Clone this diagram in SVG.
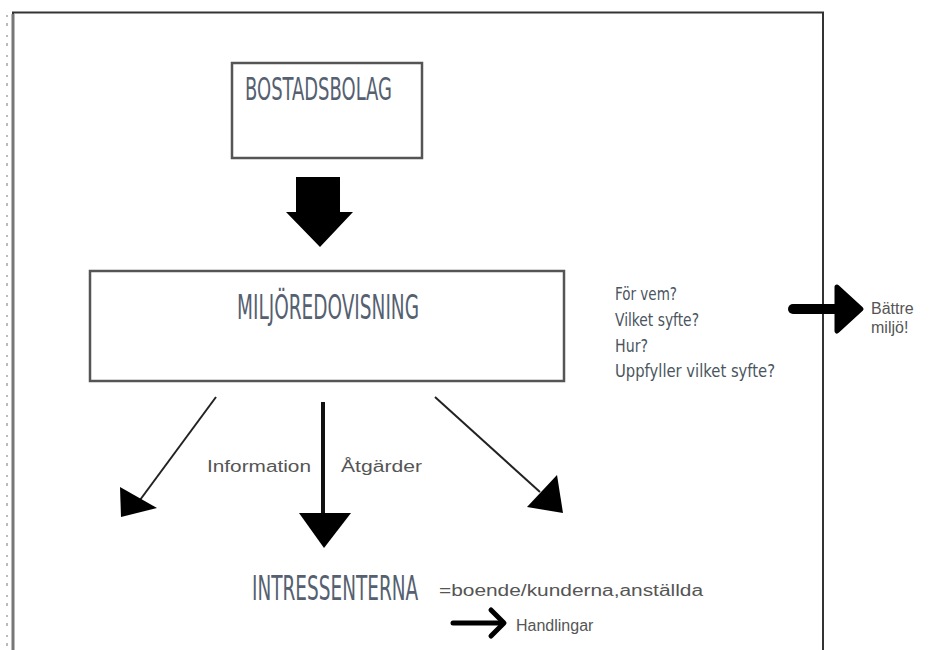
<svg xmlns="http://www.w3.org/2000/svg" width="931" height="650" viewBox="0 0 931 650">
<defs>
<style>
.box{fill:#fff;stroke:#555;stroke-width:2.5}
.cond{font-family:"Liberation Sans Narrow","DejaVu Sans Condensed","Liberation Sans",sans-serif;fill:#556070}
.q{font-family:"Liberation Sans Narrow","DejaVu Sans Condensed","Liberation Sans",sans-serif;font-size:17px;fill:#4a5560}
.lbl{font-family:"Liberation Sans",Arial,sans-serif;font-size:16px;fill:#555}
.thin{stroke:#222;stroke-width:2;fill:none}
.fill{fill:#000}
</style>
</defs>
<rect width="931" height="650" fill="#fff"/>
<g id="frame">
<path d="M13,650 V12.5 H823 V650" fill="none" stroke="#333" stroke-width="2"/>
<line x1="13" y1="14" x2="13" y2="650" stroke="#777" stroke-width="3"/>
<line x1="7" y1="15" x2="7" y2="650" stroke="#bbb" stroke-width="2" stroke-dasharray="2 6 3 9"/>
</g>
<g id="bostadsbolag">
<rect class="box" x="232" y="63" width="190" height="95"/>
<text class="cond" x="245" y="100" font-size="32" textLength="147" lengthAdjust="spacingAndGlyphs">BOSTADSBOLAG</text>
</g>
<g id="miljoredovisning">
<rect class="box" x="90" y="271" width="474" height="110"/>
<text class="cond" x="237" y="319" font-size="33" textLength="182" lengthAdjust="spacingAndGlyphs">MILJÖREDOVISNING</text>
</g>
<g id="questions">
<text class="q" x="615" y="300" textLength="62" lengthAdjust="spacingAndGlyphs">För vem?</text>
<text class="q" x="615" y="326" textLength="84" lengthAdjust="spacingAndGlyphs" fill="#333d48">Vilket syfte?</text>
<text class="q" x="615" y="352" textLength="33" lengthAdjust="spacingAndGlyphs">Hur?</text>
<text class="q" x="615" y="377" textLength="160" lengthAdjust="spacingAndGlyphs">Uppfyller vilket syfte?</text>
</g>
<g id="battre-miljo">
<text class="lbl" x="871" y="314">Bättre</text>
<text class="lbl" x="871" y="333">miljö!</text>
</g>
<g id="intressenterna">
<text class="cond" transform="translate(252,600) scale(0.6,1)" x="0" y="0" font-size="34" textLength="277" lengthAdjust="spacingAndGlyphs">INTRESSENTERNA</text>
<text class="lbl" x="439" y="596" font-size="15" textLength="264" lengthAdjust="spacingAndGlyphs">=boende/kunderna,anställda</text>
</g>
<g id="handlingar">
<text class="lbl" x="516" y="631">Handlingar</text>
</g>
<g id="connectors">
<polygon class="fill" points="296,177 340,177 340,212 353,212 320,247 286,212 296,212"/>
<line x1="793" y1="309" x2="838" y2="309" stroke="#000" stroke-width="10" stroke-linecap="round"/>
<path d="M837,287 L861,309 L837,331 Z" fill="#000" stroke="#000" stroke-width="5" stroke-linejoin="round"/>
<line class="thin" x1="216" y1="397" x2="140" y2="500"/>
<polygon class="fill" points="120,487 121,517 157,508"/>
<line x1="323" y1="402" x2="323" y2="515" stroke="#111" stroke-width="4"/>
<polygon class="fill" points="299,513 351,513 324,548"/>
<line class="thin" x1="435" y1="397" x2="540" y2="492"/>
<polygon class="fill" points="527,507 557,475 563,513"/>
<text class="lbl" x="207" y="472" textLength="104" lengthAdjust="spacingAndGlyphs">Information</text>
<text class="lbl" x="341" y="472" textLength="81" lengthAdjust="spacingAndGlyphs">Åtgärder</text>
<line x1="453" y1="623" x2="500" y2="623" stroke="#000" stroke-width="5" stroke-linecap="round"/>
<polyline points="491,610 504,623 491,636" fill="none" stroke="#000" stroke-width="5" stroke-linecap="round" stroke-linejoin="round"/>
</g>
</svg>
